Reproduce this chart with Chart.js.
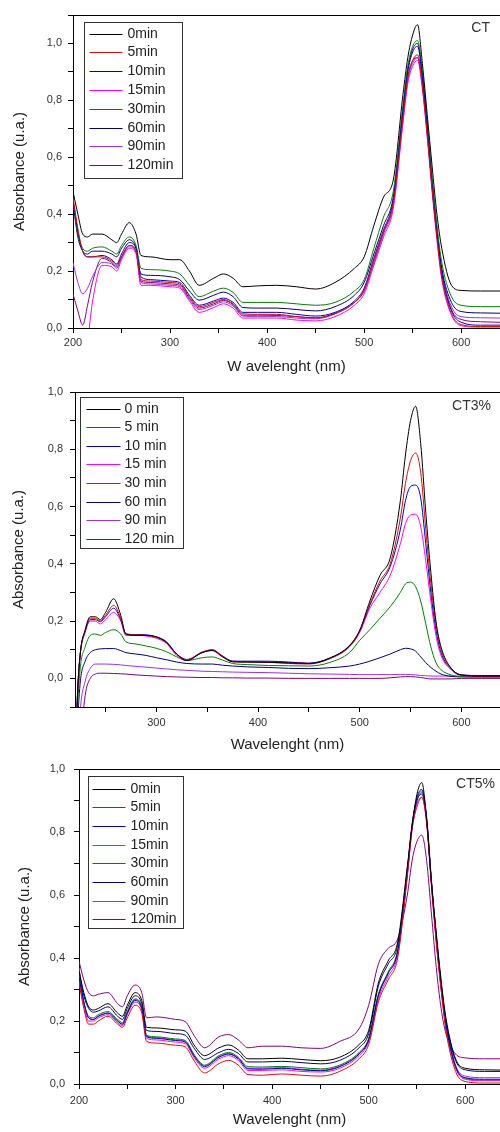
<!DOCTYPE html>
<html>
<head>
<meta charset="utf-8">
<title>UV-Vis spectra</title>
<script src="https://cdn.jsdelivr.net/npm/chart.js@4.4.0/dist/chart.umd.min.js"></script>
<style>
body{margin:0;background:#fff;}
canvas.panel{position:absolute;left:0;}
</style>
</head>
<body>
<canvas id="chartCT" class="panel" width="500" height="380" style="top:0px"></canvas>
<canvas id="chartCT3" class="panel" width="500" height="380" style="top:380px"></canvas>
<canvas id="chartCT5" class="panel" width="500" height="372" style="top:760px"></canvas>
<script>

/* -------- DATA -------- */

const seriesColors = ["#000000","#d01010","#0000b0","#ff00ff","#008000","#000070","#9a30e8","#800080"];

const labelsCT  = ["0min","5min","10min","15min","30min","60min","90min","120min"];
const labelsCT3 = ["0 min","5 min","10 min","15 min","30 min","60 min","90 min","120 min"];
const labelsCT5 = ["0min","5min","10min","15min","30min","60min","90min","120min"];

// CT
const wlCT = [200,205,210,215,220,230,240,245,250,258,265,270,280,300,310,320,330,345,355,365,375,390,410,430,450,470,490,500,510,520,530,540,545,550,555,560,565,570,575,580,590,600,620,640];
const ct_0   = [.48,.40,.33,.32,.33,.33,.31,.30,.33,.37,.33,.255,.25,.24,.24,.20,.15,.175,.19,.175,.145,.148,.15,.145,.137,.16,.21,.25,.36,.46,.52,.82,.95,1.03,1.066,.93,.75,.57,.40,.28,.15,.132,.13,.13];
const ct_5   = [.46,.35,.27,.25,.25,.25,.235,.22,.25,.29,.27,.17,.165,.16,.155,.11,.075,.09,.10,.085,.05,.048,.048,.04,.035,.05,.09,.135,.24,.34,.44,.74,.88,.94,.95,.85,.68,.49,.32,.18,.05,.012,.005,.005];
const ct_10  = [.45,.34,.27,.25,.25,.255,.24,.225,.26,.30,.28,.18,.17,.165,.16,.115,.08,.095,.105,.09,.055,.055,.055,.048,.042,.055,.095,.14,.245,.345,.45,.76,.9,.97,.99,.88,.7,.5,.33,.19,.06,.02,.01,.01];
const ct_15  = [-.3,-.25,-.15,-.05,.09,.22,.215,.2,.24,.28,.26,.15,.15,.145,.14,.095,.055,.072,.085,.07,.035,.035,.035,.028,.025,.04,.08,.12,.22,.32,.42,.72,.86,.92,.94,.84,.67,.48,.31,.17,.045,.008,.003,.003];
const ct_30  = [.45,.33,.28,.27,.28,.285,.27,.26,.29,.32,.29,.21,.205,.20,.19,.15,.11,.13,.14,.125,.09,.09,.09,.085,.08,.09,.13,.17,.28,.39,.48,.78,.92,.99,1.01,.90,.72,.53,.36,.23,.11,.08,.075,.075];
const ct_60  = [.44,.32,.27,.26,.27,.27,.26,.25,.28,.31,.28,.19,.185,.18,.17,.13,.098,.115,.126,.11,.072,.07,.07,.065,.06,.075,.115,.16,.26,.36,.46,.77,.91,.98,1.0,.89,.71,.52,.35,.21,.09,.058,.053,.052];
const ct_90  = [.23,.16,.12,.14,.18,.23,.225,.21,.245,.285,.265,.16,.155,.15,.145,.10,.065,.08,.092,.077,.042,.04,.04,.035,.032,.05,.09,.13,.23,.33,.43,.73,.87,.93,.95,.86,.69,.5,.34,.2,.075,.04,.036,.035];
const ct_120 = [.12,.06,.01,.08,.16,.245,.23,.215,.25,.29,.27,.165,.16,.155,.15,.105,.07,.085,.097,.082,.045,.045,.044,.04,.036,.052,.09,.13,.23,.335,.44,.74,.88,.94,.96,.86,.69,.5,.33,.2,.065,.03,.022,.02];

// CT3%
const wlCT3 = [220,222,225,230,235,240,245,250,258,265,270,280,290,300,310,320,330,345,355,365,375,390,410,430,450,470,490,500,510,520,530,540,545,550,555,560,565,570,575,580,590,600,620,640];
const ct3_0   = [-.4,-.1,.08,.17,.215,.215,.205,.23,.278,.22,.155,.15,.15,.145,.125,.085,.062,.09,.097,.075,.058,.057,.056,.054,.052,.07,.115,.168,.27,.36,.42,.62,.78,.9,.95,.82,.58,.37,.2,.11,.035,.012,.008,.008];
const ct3_5   = [-.4,-.1,.08,.165,.21,.21,.2,.22,.255,.21,.155,.152,.15,.143,.125,.085,.065,.092,.1,.078,.058,.057,.056,.052,.05,.068,.112,.165,.26,.34,.4,.56,.68,.76,.787,.72,.52,.33,.19,.1,.035,.012,.008,.008];
const ct3_10  = [-.4,-.1,.08,.165,.205,.205,.198,.215,.245,.205,.155,.153,.152,.145,.128,.085,.066,.09,.098,.078,.06,.06,.06,.057,.053,.07,.113,.165,.255,.33,.39,.52,.62,.67,.675,.63,.47,.3,.17,.09,.033,.012,.01,.01];
const ct3_15  = [-.4,-.1,.075,.16,.2,.2,.19,.205,.23,.2,.15,.15,.148,.14,.122,.08,.063,.09,.1,.078,.06,.058,.057,.055,.052,.068,.11,.16,.245,.3,.36,.47,.54,.57,.573,.53,.41,.27,.15,.08,.03,.01,.008,.008];
const ct3_30  = [-.4,-.15,.03,.11,.15,.155,.15,.16,.17,.155,.128,.12,.113,.105,.093,.075,.062,.072,.075,.064,.052,.048,.045,.044,.043,.055,.09,.133,.17,.21,.25,.3,.33,.336,.32,.27,.19,.11,.055,.03,.012,.006,.005,.005];
const ct3_60  = [-.4,-.2,-.02,.06,.09,.1,.103,.104,.104,.097,.09,.085,.08,.072,.065,.057,.052,.05,.05,.046,.043,.04,.038,.035,.034,.037,.043,.05,.06,.072,.085,.1,.105,.103,.095,.075,.055,.038,.025,.015,.007,.005,.005,.005];
const ct3_90  = [-.5,-.35,-.12,-.01,.035,.05,.05,.05,.049,.047,.045,.042,.039,.036,.033,.03,.028,.025,.024,.023,.022,.021,.02,.018,.016,.015,.014,.013,.013,.013,.013,.014,.014,.013,.012,.01,.009,.008,.008,.008,.008,.008,.008,.008];
const ct3_120 = [-.5,-.45,-.25,-.06,0,.015,.018,.018,.017,.016,.015,.012,.01,.008,.006,.005,.004,.003,.003,.002,.002,.001,.001,0,0,0,0,0,0,0,.002,.005,.006,.006,.005,.003,0,-.002,-.002,-.002,-.002,0,0,0];

// CT5%
const wlCT5 = [200,205,210,215,220,230,240,245,250,258,265,270,280,300,310,320,330,345,355,365,375,390,410,430,450,470,490,500,510,520,530,540,545,550,555,560,565,570,575,580,590,600,620,640];
const ct5_0   = [.36,.29,.245,.235,.24,.255,.225,.215,.25,.29,.265,.18,.178,.172,.168,.12,.09,.115,.124,.108,.08,.08,.082,.078,.074,.085,.125,.17,.32,.39,.45,.69,.82,.92,.957,.84,.64,.48,.33,.21,.08,.05,.045,.044];
const ct5_5   = [.32,.24,.19,.19,.2,.215,.19,.18,.21,.25,.225,.135,.13,.123,.118,.07,.035,.065,.075,.06,.03,.028,.032,.028,.025,.04,.08,.125,.26,.33,.4,.66,.81,.88,.91,.83,.63,.45,.3,.17,.04,.008,.003,.003];
const ct5_10  = [.34,.26,.21,.205,.215,.225,.2,.19,.225,.265,.24,.15,.145,.138,.133,.085,.055,.085,.095,.08,.048,.047,.05,.045,.042,.055,.095,.14,.28,.35,.42,.67,.82,.9,.92,.84,.64,.46,.31,.19,.055,.02,.015,.015];
const ct5_15  = [.33,.25,.2,.2,.21,.22,.195,.185,.22,.26,.235,.145,.14,.133,.128,.08,.05,.08,.09,.075,.043,.043,.045,.04,.038,.05,.09,.135,.27,.34,.41,.66,.81,.89,.91,.83,.63,.45,.3,.18,.05,.015,.01,.01];
const ct5_30  = [.35,.26,.215,.21,.22,.23,.205,.195,.23,.27,.245,.155,.15,.143,.138,.09,.06,.09,.1,.085,.055,.054,.056,.052,.048,.06,.1,.145,.285,.355,.425,.67,.82,.9,.925,.84,.64,.46,.31,.19,.055,.018,.012,.012];
const ct5_60  = [.35,.28,.24,.228,.232,.245,.215,.205,.24,.28,.255,.17,.167,.16,.155,.11,.078,.1,.11,.097,.07,.07,.072,.068,.064,.075,.115,.16,.31,.38,.44,.68,.82,.91,.935,.84,.64,.47,.32,.2,.075,.045,.04,.04];
const ct5_90  = [.37,.26,.21,.205,.215,.225,.2,.19,.225,.268,.242,.152,.147,.14,.135,.087,.057,.087,.097,.082,.05,.05,.052,.047,.044,.057,.097,.142,.28,.35,.42,.68,.83,.905,.93,.85,.65,.47,.32,.2,.06,.025,.02,.02];
const ct5_120 = [.39,.33,.29,.28,.285,.29,.255,.245,.28,.314,.29,.21,.213,.205,.198,.15,.115,.15,.157,.14,.115,.12,.12,.115,.113,.135,.175,.25,.38,.43,.46,.6,.71,.77,.79,.71,.54,.37,.24,.16,.095,.083,.08,.08];

const FONT = "'Liberation Sans', Arial, sans-serif";

/* -------- FRAME + LEGEND BOX + SAMPLE TAG -------- */

const framePlugin = {
id:"frame",
afterDraw(chart, args, opts){
const a = chart.chartArea;
const c = chart.ctx;
c.save();

// top edge of the frame
c.strokeStyle = "#000";
c.lineWidth = 1;
c.beginPath();
c.moveTo(a.left, a.top + 0.5);
c.lineTo(a.right, a.top + 0.5);
c.stroke();

// legend box
const L = opts.legend;
const bx = Math.round(a.left + L.dx) + 0.5;
const by = Math.round(a.top + L.dy) + 0.5;
c.fillStyle = "#fff";
c.fillRect(bx, by, L.w, L.h);
c.strokeStyle = "#333";
c.strokeRect(bx, by, L.w, L.h);

c.font = "14px " + FONT;
c.textBaseline = "middle";
c.textAlign = "left";
chart.data.datasets.forEach((ds,i)=>{
const y = Math.round(by + L.row0 + i*L.gap) + 0.5;
c.strokeStyle = ds.borderColor;
c.lineWidth = 1.2;
c.beginPath();
c.moveTo(bx + L.x0, y);
c.lineTo(bx + L.x1, y);
c.stroke();
c.fillStyle = "#222";
c.fillText(ds.label, bx + L.tx, y);
});

// sample name, top right
c.font = "14px " + FONT;
c.fillStyle = "#333";
c.textAlign = "right";
c.fillText(opts.tag, a.right - opts.tagDx, a.top + opts.tagDy);

c.restore();
}
};

/* -------- ONE PANEL -------- */

function makePanel(id, wl, series, labels, cfg){

const datasets = series.map((vals,i)=>({
label:labels[i],
data:wl.map((w,j)=>({x:w,y:vals[j]})),
borderColor:seriesColors[i],
borderWidth:1,
pointRadius:0,
fill:false,
cubicInterpolationMode:"monotone"
}));

return new Chart(document.getElementById(id),{
type:"line",
data:{datasets:datasets},
options:{
responsive:false,
animation:false,
devicePixelRatio:1,
layout:{padding:{top:cfg.top,left:0,right:0,bottom:0}},
plugins:{
legend:{display:false},
tooltip:{enabled:false},
frame:{legend:cfg.legend,tag:cfg.tag,tagDx:cfg.tagDx,tagDy:cfg.tagDy}
},
scales:{
x:{
type:"linear",
min:cfg.xmin,
max:cfg.xmax,
afterBuildTicks:s=>{ s.ticks = s.ticks.filter(t=>t.value % 50 === 0); },
afterFit:s=>{ s.height = cfg.xh; s.paddingLeft = 0; s.paddingRight = 0; },
ticks:{
stepSize:50,
autoSkip:false,
maxRotation:0,
padding:cfg.xpad,
color:"#333",
font:{family:FONT,size:11},
callback:v=> v % 100 === 0 ? String(v) : ""
},
grid:{drawOnChartArea:false,drawTicks:true,tickLength:5,color:"#000"},
border:{display:true,color:"#000",width:1},
title:{display:true,text:cfg.xtitle,color:"#222",font:{family:FONT,size:15},padding:{top:0,bottom:cfg.xtp}}
},
y:{
min:cfg.ymin,
max:cfg.ymax,
afterFit:s=>{ s.width = cfg.left; s.paddingTop = 0; s.paddingBottom = 0; },
ticks:{
stepSize:0.1,
autoSkip:false,
padding:cfg.ypad,
color:"#333",
font:{family:FONT,size:11},
callback:v=> Math.round(v*10) % 2 === 0 ? v.toFixed(1).replace(".",",") : ""
},
grid:{drawOnChartArea:false,drawTicks:true,tickLength:5,color:"#000"},
border:{display:true,color:"#000",width:1},
title:{display:true,text:"Absorbance (u.a.)",color:"#222",font:{family:FONT,size:15},padding:{top:cfg.ytp,bottom:0}}
}
}
},
plugins:[framePlugin]
});

}

/* -------- THE THREE PANELS -------- */

makePanel("chartCT", wlCT,
[ct_0,ct_5,ct_10,ct_15,ct_30,ct_60,ct_90,ct_120], labelsCT,
{top:15,left:73,xh:52,xpad:3,xtp:4,ypad:6,ytp:11,ymin:0,ymax:1.1,xmin:200,xmax:640,
legend:{dx:11,dy:7,w:98,h:156,row0:11,gap:18.8,x0:5,x1:38,tx:43},
tag:"CT",tagDx:10,tagDy:13,xtitle:"W avelenght (nm)"});

makePanel("chartCT3", wlCT3,
[ct3_0,ct3_5,ct3_10,ct3_15,ct3_30,ct3_60,ct3_90,ct3_120], labelsCT3,
{top:12,left:75,xh:53,xpad:4,xtp:6,ypad:7,ytp:10,ymin:-0.1,ymax:1.0,xmin:220,xmax:638,
legend:{dx:5,dy:5,w:103,h:151,row0:11,gap:18.6,x0:6,x1:40,tx:44},
tag:"CT3%",tagDx:9,tagDy:14,xtitle:"Wavelenght (nm)"});

makePanel("chartCT5", wlCT5,
[ct5_0,ct5_5,ct5_10,ct5_15,ct5_30,ct5_60,ct5_90,ct5_120], labelsCT5,
{top:9,left:79,xh:48,xpad:5,xtp:3,ypad:9,ytp:16,ymin:0,ymax:1.0,xmin:200,xmax:636,
legend:{dx:9,dy:7,w:95,h:152,row0:12,gap:18.7,x0:4,x1:37,tx:42},
tag:"CT5%",tagDx:5,tagDy:15,xtitle:"Wavelenght (nm)"});

</script>
</body>
</html>
